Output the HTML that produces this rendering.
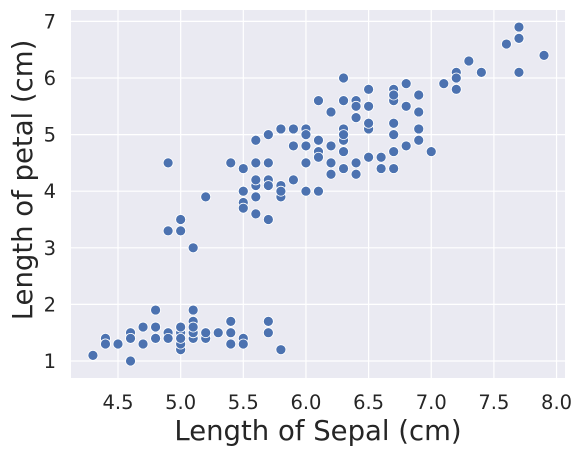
<!DOCTYPE html>
<html><head><meta charset="utf-8"><style>
body{margin:0;background:#fff;font-family:"DejaVu Sans","Liberation Sans",sans-serif}
</style></head><body>
<svg id="chart" width="582" height="456" xmlns="http://www.w3.org/2000/svg" font-family="DejaVu Sans, Liberation Sans, sans-serif">
<rect x="71" y="10" width="494" height="368" fill="#eaeaf2"/>
<g id="grid"></g><g id="pts"></g><g id="ticks"></g>
<text x="318" y="440" font-size="27.5" text-anchor="middle" fill="#262626">Length of Sepal (cm)</text>
<text transform="translate(32,180) rotate(-90)" font-size="27.5" text-anchor="middle" fill="#262626">Length of petal (cm)</text>
</svg>
<script>
const sepal=[5.1,4.9,4.7,4.6,5.0,5.4,4.6,5.0,4.4,4.9,5.4,4.8,4.8,4.3,5.8,5.7,5.4,5.1,5.7,5.1,5.4,5.1,4.6,5.1,4.8,5.0,5.0,5.2,5.2,4.7,4.8,5.4,5.2,5.5,4.9,5.0,5.5,4.9,4.4,5.1,5.0,4.5,4.4,5.0,5.1,4.8,5.1,4.6,5.3,5.0,
7.0,6.4,6.9,5.5,6.5,5.7,6.3,4.9,6.6,5.2,5.0,5.9,6.0,6.1,5.6,6.7,5.6,5.8,6.2,5.6,5.9,6.1,6.3,6.1,6.4,6.6,6.8,6.7,6.0,5.7,5.5,5.5,5.8,6.0,5.4,6.0,6.7,6.3,5.6,5.5,5.5,6.1,5.8,5.0,5.6,5.7,5.7,6.2,5.1,5.7,
6.3,5.8,7.1,6.3,6.5,7.6,4.9,7.3,6.7,7.2,6.5,6.4,6.8,5.7,5.8,6.4,6.5,7.7,7.7,6.0,6.9,5.6,7.7,6.3,6.7,7.2,6.2,6.1,6.4,7.2,7.4,7.9,6.4,6.3,6.1,7.7,6.3,6.4,6.0,6.9,6.7,6.9,5.8,6.8,6.7,6.7,6.3,6.5,6.2,5.9];
const petal=[1.4,1.4,1.3,1.5,1.4,1.7,1.4,1.5,1.4,1.5,1.5,1.6,1.4,1.1,1.2,1.5,1.3,1.4,1.7,1.5,1.7,1.5,1.0,1.7,1.9,1.6,1.6,1.5,1.4,1.6,1.6,1.5,1.5,1.4,1.5,1.2,1.3,1.4,1.3,1.5,1.3,1.3,1.3,1.6,1.9,1.4,1.6,1.4,1.5,1.4,
4.7,4.5,4.9,4.0,4.6,4.5,4.7,3.3,4.6,3.9,3.5,4.2,4.0,4.7,3.6,4.4,4.5,4.1,4.5,3.9,4.8,4.0,4.9,4.7,4.3,4.4,4.8,5.0,4.5,3.5,3.8,3.7,3.9,5.1,4.5,4.5,4.7,4.4,4.1,4.0,4.4,4.6,4.0,3.3,4.2,4.2,4.2,4.3,3.0,4.1,
6.0,5.1,5.9,5.6,5.8,6.6,4.5,6.3,5.8,6.1,5.1,5.3,5.5,5.0,5.1,5.3,5.5,6.7,6.9,5.0,5.7,4.9,6.7,4.9,5.7,6.0,4.8,4.9,5.6,5.8,6.1,6.4,5.6,5.1,5.6,6.1,5.6,5.5,4.8,5.4,5.6,5.1,5.1,5.9,5.7,5.2,5.0,5.2,5.4,5.1];
const xTicks=["4.5","5.0","5.5","6.0","6.5","7.0","7.5","8.0"];
const yTicks=["1","2","3","4","5","6","7"];
const NS="http://www.w3.org/2000/svg";
const xs=v=>118+(v-4.5)*125.3;
const ys=v=>361-(v-1)*56.6;
const grid=document.getElementById('grid'),pts=document.getElementById('pts'),tk=document.getElementById('ticks');
function mk(tag,a,parent){const e=document.createElementNS(NS,tag);for(const k in a)e.setAttribute(k,a[k]);parent.appendChild(e);return e;}
xTicks.forEach(t=>{const x=xs(+t);
const l=mk('line',{x1:x,x2:x,y1:10,y2:378,stroke:'#fff','stroke-width':1.2},grid);


const tx=mk('text',{x:x,y:409,'font-size':19.5,'text-anchor':'middle',fill:'#262626'},tk);tx.textContent=t;

});
yTicks.forEach(t=>{const y=ys(+t);
const l=mk('line',{x1:71,x2:565,y1:y,y2:y,stroke:'#fff','stroke-width':1.2},grid);


const tx=mk('text',{x:56,y:y+7,'font-size':19.5,'text-anchor':'end',fill:'#262626'},tk);tx.textContent=t;

});
sepal.forEach((s,i)=>{const c=mk('circle',{cx:xs(s),cy:ys(petal[i]),r:5,fill:'#4c72b0',stroke:'#fff','stroke-width':0.8},pts);

});
</script>
</body></html>
